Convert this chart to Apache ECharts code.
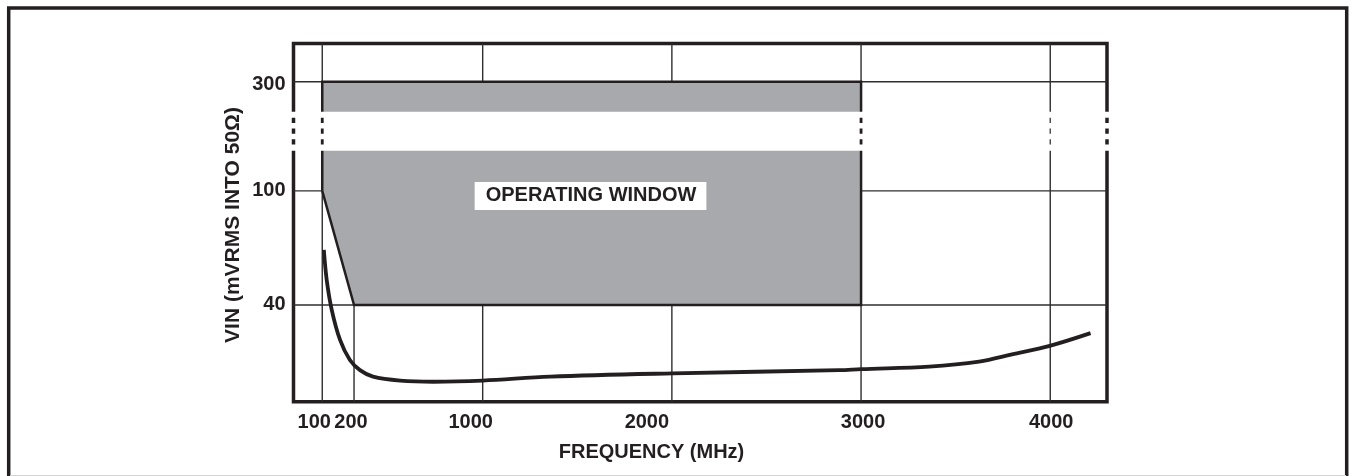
<!DOCTYPE html>
<html><head><meta charset="utf-8">
<script src="https://cdn.jsdelivr.net/npm/echarts@6/dist/echarts.min.js"></script>
<style>html,body{margin:0;padding:0;background:#fff}#c{width:1357px;height:476px}</style>
</head><body><div id="c"></div>
<script>
// ---------------- data ----------------
const X_TICK_FREQS  = [100, 200, 1000, 2000, 3000, 4000];          // MHz
const X_TICK_LABELS = ['100', '200', '1000', '2000', '3000', '4000'];
const Y_TICK_VALUES = [40, 100, 300];                               // mVrms
const Y_TICK_LABELS = ['40', '100', '300'];
const X_RANGE = [0, 4300];
const Y_RANGE = [18.4, 408];
const Y_BREAK = [138, 236];                                         // broken part of the y axis (mV)
// operating window outline (MHz, mV)
const WINDOW_FREQ = [100, 100, 3000, 3000, 200, 100];
const WINDOW_MV   = [100, 300, 300, 40, 40, 100];
// sensitivity curve (MHz, mV)
const CURVE_FREQ = [105, 114, 130, 156, 187, 237, 318, 487, 693, 1000, 1357, 2004, 2886, 3000, 3360, 3624, 3798, 3997, 4213];
const CURVE_MV   = [62.2, 48.9, 38.4, 30.2, 25.7, 23.7, 22.5, 21.8, 21.6, 21.8, 22.5, 23.1, 23.7, 23.9, 24.4, 25.4, 26.9, 28.8, 31.9];
const WINDOW_LABEL = 'OPERATING WINDOW';
const WINDOW_LABEL_AT = [1570, 96];
const X_TITLE = 'FREQUENCY (MHz)';
const Y_TITLE = 'VIN (mVRMS INTO 50\u03A9)';

// ---------------- scales ----------------
// x axis of the original is stretched at the low end
const X_KNOTS_FREQ = [0, 100, 200, 1000, 4300];
const X_KNOTS_AXIS = [0, 152, 320, 1000, 4300];
function xScale(f) {
  for (let i = 1; i < X_KNOTS_FREQ.length; i++) {
    if (f <= X_KNOTS_FREQ[i] || i === X_KNOTS_FREQ.length - 1) {
      const a = X_KNOTS_FREQ[i - 1], b = X_KNOTS_FREQ[i];
      const A = X_KNOTS_AXIS[i - 1], B = X_KNOTS_AXIS[i];
      return A + (f - a) / (b - a) * (B - A);
    }
  }
}
// log y axis with a compressed break
const BREAK_GAP = 0.136;
function yScale(v) {
  const l = Math.log10(v);
  const lo = Math.log10(Y_BREAK[0]), hi = Math.log10(Y_BREAK[1]);
  if (l <= lo) return l;
  if (l >= hi) return l - (hi - lo) + BREAK_GAP;
  return lo + (l - lo) / (hi - lo) * BREAK_GAP;
}

// ---------------- styles ----------------
const INK = '#231f20';
const GRAY = '#a7a9ac';
const FONT = 'Liberation Sans, Arial, Helvetica, sans-serif';
const X_LABEL_DX = [-8, -3, -12, -25, 2, 1];   // label nudges (px)
const Y_LABEL_DY = [0, 0, 3];
const X_GRID_TOP = [Y_RANGE[1], 40, Y_RANGE[1], Y_RANGE[1], Y_RANGE[1], Y_RANGE[1]];
// lines crossing the break: [freq, width, color]
const BREAK_LINES = [[X_RANGE[0], 3.5, INK], [100, 2.8, INK], [3000, 2.8, INK], [4000, 1.4, '#444'], [X_RANGE[1], 3.5, INK]];

const xMin = xScale(X_RANGE[0]), xMax = xScale(X_RANGE[1]);
const yMin = yScale(Y_RANGE[0]), yMax = yScale(Y_RANGE[1]);

// grid segments in axis units [x1,y1,x2,y2]
const gridSegs = [];
X_TICK_FREQS.forEach((f, i) => gridSegs.push([xScale(f), yMin, xScale(f), yScale(X_GRID_TOP[i])]));
Y_TICK_VALUES.forEach(v => gridSegs.push([xMin, yScale(v), xMax, yScale(v)]));

const xRich = {}, yRich = {};
X_LABEL_DX.forEach((dx, i) => { xRich['x' + i] = { padding: dx < 0 ? [0, -2 * dx, 0, 0] : [0, 0, 0, 2 * dx] }; });
Y_LABEL_DY.forEach((dy, i) => { yRich['y' + i] = { padding: [2 * dy, 0, 0, 0] }; });

const labelStyle = { fontFamily: FONT, fontWeight: 'bold', fontSize: 20, color: INK };

const chart = echarts.init(document.getElementById('c'), null, { renderer: 'canvas' });
chart.setOption({
  backgroundColor: '#fff',
  animation: false,
  grid: { left: 293.5, top: 43.5, right: 250, bottom: 74.3, show: true, borderColor: INK, borderWidth: 3.5, backgroundColor: 'transparent' },
  xAxis: {
    type: 'value', min: xMin, max: xMax,
    axisLine: { show: false }, axisTick: { show: false }, splitLine: { show: false },
    axisLabel: Object.assign({}, labelStyle, {
      margin: 11,
      customValues: X_TICK_FREQS.map(xScale),
      formatter: (val) => {
        const i = X_TICK_FREQS.findIndex(f => Math.abs(xScale(f) - val) < 1e-6);
        return i < 0 ? '' : '{x' + i + '|' + X_TICK_LABELS[i] + '}';
      },
      rich: xRich
    })
  },
  yAxis: {
    type: 'value', min: yMin, max: yMax,
    axisLine: { show: false }, axisTick: { show: false }, splitLine: { show: false },
    axisLabel: Object.assign({}, labelStyle, {
      margin: 8,
      customValues: Y_TICK_VALUES.map(yScale),
      formatter: (val) => {
        const i = Y_TICK_VALUES.findIndex(v => Math.abs(yScale(v) - val) < 1e-6);
        return i < 0 ? '' : '{y' + i + '|' + Y_TICK_LABELS[i] + '}';
      },
      rich: yRich
    })
  },
  graphic: [
    { type: 'rect', z: 100, silent: true, shape: { x: 8.7, y: 8, width: 1338, height: 490 }, style: { fill: 'none', stroke: INK, lineWidth: 3.5 } },
    { type: 'line', z: 100, silent: true, shape: { x1: 10, y1: 475.5, x2: 1346, y2: 475.5 }, style: { stroke: '#d4d4d4', lineWidth: 1 } },
    { type: 'text', z: 100, x: 651.5, y: 452, silent: true,
      style: { text: X_TITLE, fill: INK, font: 'bold 20px ' + FONT, textAlign: 'center', textVerticalAlign: 'middle', align: 'center', verticalAlign: 'middle' } },
    { type: 'text', z: 100, x: 233, y: 225, rotation: Math.PI / 2, silent: true,
      style: { text: Y_TITLE, fill: INK, font: 'bold 21px ' + FONT, textAlign: 'center', textVerticalAlign: 'middle', align: 'center', verticalAlign: 'middle' } }
  ],
  series: [
    { // grid lines
      type: 'custom', z: 1, silent: true, clip: false,
      data: gridSegs,
      encode: { x: [0, 2], y: [1, 3] },
      renderItem: (params, api) => {
        const p1 = api.coord([api.value(0), api.value(1)]);
        const p2 = api.coord([api.value(2), api.value(3)]);
        return { type: 'line', shape: { x1: p1[0], y1: p1[1], x2: p2[0], y2: p2[1] }, style: { stroke: '#2e2e2e', lineWidth: 1.4 } };
      }
    },
    { // operating window fill
      type: 'custom', z: 2, silent: true, clip: false,
      data: [0],
      renderItem: (params, api) => {
        const pts = WINDOW_FREQ.map((f, i) => api.coord([xScale(f), yScale(WINDOW_MV[i])]));
        return { type: 'polygon', shape: { points: pts }, style: { fill: GRAY } };
      }
    },
    { // operating window outline
      type: 'line', z: 3, silent: true, symbol: 'none',
      data: WINDOW_FREQ.map((f, i) => [xScale(f), yScale(WINDOW_MV[i])]),
      lineStyle: { color: INK, width: 2.5, join: 'miter' }
    },
    { // axis break: white band + dashes
      type: 'custom', z: 4, silent: true, clip: false,
      data: [0],
      renderItem: (params, api) => {
        const lo = api.coord([xMin, yScale(Y_BREAK[0])]);
        const hi = api.coord([xMax, yScale(Y_BREAK[1])]);
        const children = [{ type: 'rect', shape: { x: lo[0] - 3, y: hi[1], width: hi[0] - lo[0] + 6, height: lo[1] - hi[1] }, style: { fill: '#fff' } }];
        const inset = 6;
        BREAK_LINES.forEach(([f, w, c]) => {
          const x = api.coord([xScale(f), yMin])[0];
          children.push({ type: 'line', shape: { x1: x, y1: hi[1] + inset, x2: x, y2: lo[1] - inset },
            style: { stroke: c, lineWidth: w, lineDash: [5.3, 5.5] } });
        });
        return { type: 'group', children };
      }
    },
    { // sensitivity curve
      type: 'line', z: 5, silent: true, symbol: 'none', smooth: 0.35,
      data: CURVE_FREQ.map((f, i) => [xScale(f), yScale(CURVE_MV[i])]),
      lineStyle: { color: INK, width: 3.8, cap: 'butt', join: 'round' }
    },
    { // window label
      type: 'scatter', z: 6, silent: true, symbolSize: 0,
      itemStyle: { opacity: 1 },
      data: [[xScale(WINDOW_LABEL_AT[0]), yScale(WINDOW_LABEL_AT[1])]],
      label: { show: true, position: 'inside', formatter: WINDOW_LABEL, backgroundColor: '#fff', opacity: 1,
        padding: [4, 10, 4, 11], fontFamily: FONT, fontWeight: 'bold', fontSize: 20, color: INK }
    }
  ]
});
</script></body></html>
